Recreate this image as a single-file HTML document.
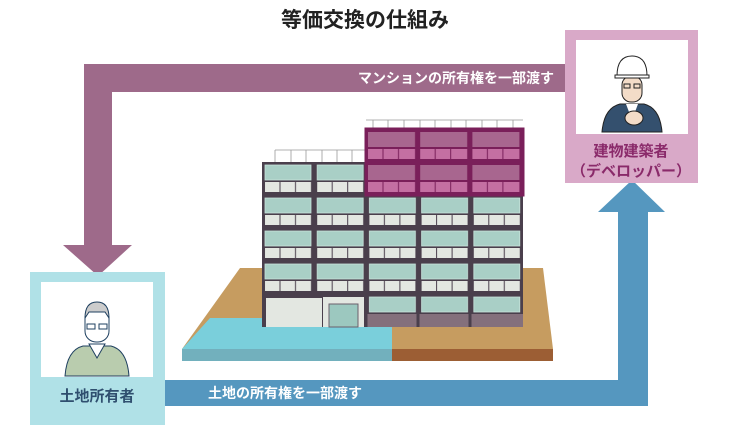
<!DOCTYPE html>
<html><head><meta charset="utf-8"><style>
body{margin:0;width:730px;height:440px;background:#fff;overflow:hidden}
svg{display:block}
text{font-family:"Liberation Sans","Noto Sans CJK JP",sans-serif;font-weight:bold}
</style></head><body>
<svg width="730" height="440" viewBox="0 0 730 440">
<defs>
<pattern id="fl" patternUnits="userSpaceOnUse" x="262" y="129" width="52.2" height="33">
<rect width="52.2" height="33" fill="#4a3f4c"/>
<rect x="3" y="3" width="46" height="15" fill="#a9cfc6" stroke="#c8e4dc" stroke-width="0.8"/>
<rect x="3" y="20" width="14.5" height="10" fill="#e3e7e1"/>
<rect x="18.5" y="20" width="14.5" height="10" fill="#e3e7e1"/>
<rect x="34" y="20" width="15" height="10" fill="#e3e7e1"/>
</pattern>
<pattern id="pf" patternUnits="userSpaceOnUse" x="366" y="129" width="52.2" height="33">
<rect width="52.2" height="33" fill="#7a1f5a"/>
<rect x="2" y="3" width="47" height="15" fill="#a8668f"/>
<rect x="2" y="20" width="14.5" height="10" fill="#c46fa2"/>
<rect x="17.5" y="20" width="14.5" height="10" fill="#c46fa2"/>
<rect x="33" y="20" width="16" height="10" fill="#c46fa2"/>
</pattern>
</defs>
<text x="365" y="27" font-size="21" text-anchor="middle" fill="#222">等価交換の仕組み</text>

<path d="M84 64 H566 V92 H112 V245 H132 L98 276 L63 245 H84 Z" fill="#9e6a8a"/>
<text x="554" y="83" font-size="14" fill="#fff" text-anchor="end">マンションの所有権を一部渡す</text>

<path d="M165 380 H618 V212 H598 L632 180 L665 212 H648 V406 H165 Z" fill="#5597bf"/>
<text x="208" y="398" font-size="14" fill="#fff">土地の所有権を一部渡す</text>

<polygon points="240,268 543,268 553,349 182,349" fill="#c69c60"/>
<polygon points="210,318 392,318 392,349 182,349" fill="#7acfdb"/>
<rect x="182" y="349" width="210" height="12" fill="#72b0bd"/>
<rect x="392" y="349" width="161" height="12" fill="#9c5e34"/>

<g stroke="#999" stroke-width="0.8" fill="none">
<line x1="275" y1="150" x2="366" y2="150"/>
<path d="M275 150V162M291 150V162M306 150V162M322 150V162M337 150V162M352 150V162"/>
<line x1="366" y1="120" x2="523" y2="120"/>
<path d="M373 120V129M388 120V129M404 120V129M420 120V129M435 120V129M451 120V129M466 120V129M482 120V129M497 120V129M513 120V129"/>
</g>
<rect x="262" y="162" width="261" height="165" fill="url(#fl)"/>
<rect x="366" y="129" width="157" height="66" fill="url(#pf)"/>
<rect x="366" y="129" width="157" height="66" fill="none" stroke="#7a1f5a" stroke-width="3"/>
<rect x="264" y="295" width="102" height="32" fill="#4a3f4c"/>
<rect x="266" y="298" width="56" height="29" fill="#e3e7e1"/>
<rect x="323" y="297" width="41" height="30" fill="#e3e7e1"/>
<rect x="329" y="304" width="29" height="23" fill="#9cc8bf" stroke="#6b5f6b"/>
<rect x="366" y="314" width="157" height="13" fill="#84707c"/>
<path d="M366 314V327M418 314V327M470 314V327" stroke="#4a3f4c" stroke-width="3"/>

<rect x="565" y="30" width="133" height="153" fill="#d9a9c8"/>
<rect x="576" y="40" width="112" height="94" fill="#fff"/>
<g transform="translate(632,90)">
<path d="M-30 42 Q-28 18 -12 14 L12 14 Q28 18 30 42 Z" fill="#34506e" stroke="#222"/>
<path d="M-6 14 L0 30 L6 14 Z" fill="#fff"/>
<rect x="-10" y="-14" width="20" height="26" rx="9" fill="#f3dcc8" stroke="#222"/>
<path d="M-15 -14 Q-15 -34 0 -34 Q15 -34 15 -14 Z" fill="#fff" stroke="#222"/>
<rect x="-17" y="-15" width="34" height="3" fill="#fff" stroke="#222"/>
<path d="M-8 -6h6v4h-6zM2 -6h6v4h-6z" fill="none" stroke="#222"/>
<ellipse cx="2" cy="28" rx="9" ry="7" fill="#f3dcc8" stroke="#222"/>
</g>
<text x="631" y="156" font-size="15" fill="#8a2a6a" text-anchor="middle">建物建築者</text>
<text x="631" y="176" font-size="15" fill="#8a2a6a" text-anchor="middle">（デベロッパー）</text>

<rect x="30" y="272" width="135" height="153" fill="#b0e1e7"/>
<rect x="41" y="282" width="112" height="95" fill="#fff"/>
<g transform="translate(97,330)">
<path d="M-32 46 Q-30 20 -14 16 L14 16 Q30 20 32 46 Z" fill="#b9ccae" stroke="#1f4060"/>
<path d="M-8 14 L0 28 L8 14 Z" fill="#fff" stroke="#1f4060"/>
<rect x="-12" y="-22" width="24" height="34" rx="11" fill="#fff" stroke="#1f4060"/>
<path d="M-12 -12 Q-12 -28 0 -28 Q12 -28 12 -12 L8 -18 L-8 -18 Z" fill="#ccc" stroke="#1f4060"/>
<path d="M-10 -6h8v5h-8zM2 -6h8v5h-8z" fill="none" stroke="#1f4060"/>
</g>
<text x="97" y="401" font-size="15" fill="#2f4f6f" text-anchor="middle">土地所有者</text>
</svg>
</body></html>
